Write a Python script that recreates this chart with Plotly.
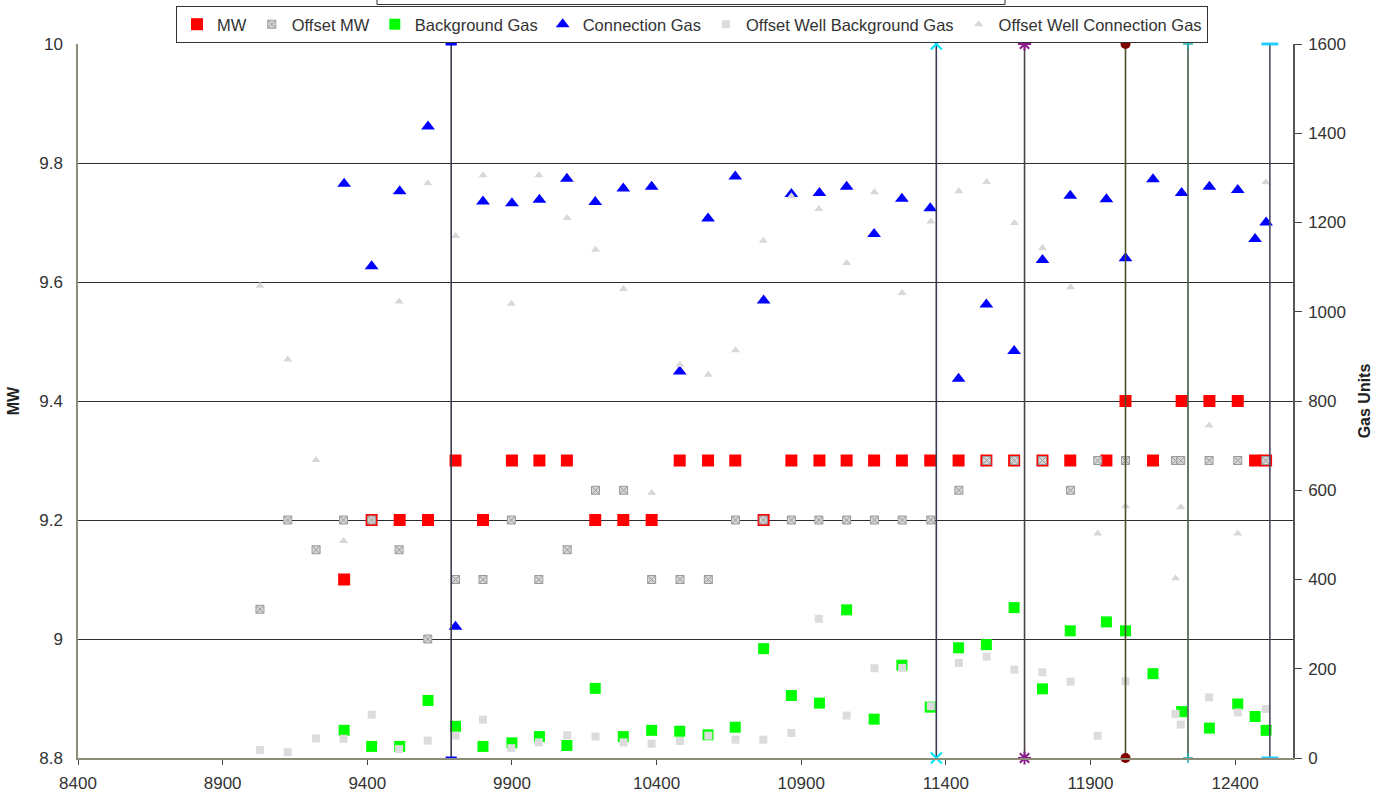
import plotly.graph_objects as go

# ---------------- data ----------------
depth = [9320, 9415, 9512, 9610, 9705, 9800, 9900, 9995, 10090, 10188, 10285, 10383,
         10480, 10578, 10672, 10770, 10866, 10963, 11057, 11152, 11248, 11346, 11444,
         11540, 11636, 11734, 11830, 11955, 12021, 12116, 12215, 12311, 12409, 12469, 12507]
mw = [9.1, 9.2, 9.2, 9.2, 9.3, 9.2, 9.3, 9.3, 9.3, 9.2, 9.2, 9.2,
      9.3, 9.3, 9.3, 9.2, 9.3, 9.3, 9.3, 9.3, 9.3, 9.3, 9.3,
      9.3, 9.3, 9.3, 9.3, 9.3, 9.4, 9.3, 9.4, 9.4, 9.4, 9.3, 9.3]
background_gas = [62, 26, 26, 129, 71, 26, 34, 48, 28, 156, 48, 62,
                  60, 52, 69, 245, 140, 123, 332, 87, 208, 114, 247,
                  254, 337, 155, 285, 305, 285, 189, 104, 67, 121, 93, 62]
connection_gas = [1287, 1102, 1270, 1415, 294, 1247, 1243, 1251, 1298, 1246, 1276, 1280,
                  866, 1209, 1303, 1025, 1264, 1266, 1280, 1174, 1253, 1232, 850,
                  1016, 912, 1116, 1260, 1252, 1120, 1297, 1266, 1280, 1273, 1163, 1200]

offset_depth = [9029, 9125, 9223, 9318, 9415, 9510, 9609, 9705, 9800, 9898, 9993, 10091,
                10189, 10286, 10383, 10481, 10579, 10673, 10769, 10866, 10961, 11057,
                11153, 11249, 11348, 11445, 11541, 11637, 11734, 11831, 11925, 12021,
                12194, 12212, 12310, 12409, 12506]
offset_mw = [9.05, 9.2, 9.15, 9.2, 9.2, 9.15, 9.0, 9.1, 9.1, 9.2, 9.1, 9.15,
             9.25, 9.25, 9.1, 9.1, 9.1, 9.2, 9.2, 9.2, 9.2, 9.2,
             9.2, 9.2, 9.2, 9.25, 9.3, 9.3, 9.3, 9.25, 9.3, 9.3,
             9.3, 9.3, 9.3, 9.3, 9.3]
offset_bg_gas = [18, 13, 44, 43, 97, 20, 39, 50, 86, 22, 35, 51,
                 48, 35, 32, 38, 50, 41, 41, 56, 312, 95,
                 201, 202, 116, 213, 227, 198, 192, 171, 50, 172,
                 99, 75, 136, 102, 110]
offset_conn_gas = [1058, 893, 668, 486, None, 1023, 1288, 1170, 1306, 1018, 1306, 1210,
                   1139, 1051, 594, 881, 859, 914, 1159, 1259, 1230, 1109,
                   1268, 1042, 1202, 1270, 1291, 1199, 1143, 1055, 503, 564,
                   403, 562, 745, 503, 1290]

# vertical event markers (depth), spanning the gas axis
event_depth = [9690, 11367, 11672, 12021, 12237, 12520]
gas_span = [0, 1600]

x_ticks = [8400, 8900, 9400, 9900, 10400, 10900, 11400, 11900, 12400]

# ---------------- styles ----------------
FONT = "Liberation Sans, Arial, sans-serif"
event_styles = [
    dict(line="#3c3c4c", symbol="line-ew", mcolor="#0000ff", size=8, lw=3),
    dict(line="#3c3c55", symbol="x-thin", mcolor="#00e5ff", size=11, lw=2),
    dict(line="#4a4048", symbol="asterisk", mcolor="#8b1a8b", size=11, lw=2),
    dict(line="#4d4d30", symbol="circle", mcolor="#800000", size=10, lw=0),
    dict(line="#405a48", symbol="cross-thin", mcolor="#20b0b0", size=7, lw=1.5),
    dict(line="#4a4a66", symbol="line-ew", mcolor="#22ccff", size=12, lw=3),
]

fig = go.Figure()

fig.add_trace(go.Scatter(
    x=depth, y=mw, name="MW", mode="markers",
    marker=dict(symbol="square", color="#ff0000", size=12)))
fig.add_trace(go.Scatter(
    x=offset_depth, y=offset_mw, name="Offset MW", mode="markers",
    marker=dict(symbol="square-x", color="#d6d6d6", size=8,
                line=dict(color="#9a9a9a", width=1))))
fig.add_trace(go.Scatter(
    x=depth, y=background_gas, name="Background Gas", mode="markers", yaxis="y2",
    marker=dict(symbol="square", color="#00ff00", size=11)))
fig.add_trace(go.Scatter(
    x=depth, y=connection_gas, name="Connection Gas", mode="markers", yaxis="y2",
    marker=dict(symbol="triangle-up", color="#0000ff", size=12)))
fig.add_trace(go.Scatter(
    x=offset_depth, y=offset_bg_gas, name="Offset Well Background Gas", mode="markers",
    yaxis="y2", marker=dict(symbol="square", color="#dcdcdc", size=8)))
fig.add_trace(go.Scatter(
    x=offset_depth, y=offset_conn_gas, name="Offset Well Connection Gas", mode="markers",
    yaxis="y2", marker=dict(symbol="triangle-up", color="#d8d8d8", size=8)))

# event lines (secondary axis, hidden from legend)
for d, st in zip(event_depth, event_styles):
    if st["symbol"] == "circle":
        marker = dict(symbol="circle", color=st["mcolor"], size=st["size"])
    else:
        marker = dict(symbol=st["symbol"], color=st["mcolor"], size=st["size"],
                      line=dict(color=st["mcolor"], width=st["lw"]))
    fig.add_trace(go.Scatter(
        x=[d, d], y=gas_span, yaxis="y2", mode="lines+markers",
        line=dict(color=st["line"], width=1.6), marker=marker,
        showlegend=False, hoverinfo="skip", cliponaxis=False))

W, H = 1377, 803
L, R, T, B = 78, 84, 44, 45
pw = W - L - R
ph = H - T - B


def px_x(p):
    return (p - L) / pw


def px_y(p):
    return 1 + (T - p) / ph


fig.update_layout(
    width=W, height=H,
    margin=dict(l=L, r=R, t=T, b=B, autoexpand=False),
    paper_bgcolor="white", plot_bgcolor="white",
    font=dict(family=FONT, color="#333333", size=17),
    showlegend=True,
    legend=dict(orientation="h", x=px_x(176), y=px_y(43), xanchor="left", yanchor="bottom",
                bordercolor="#333333", borderwidth=1, bgcolor="white",
                font=dict(size=16.5, color="#333333"), itemwidth=30,
                tracegroupgap=0, itemsizing="trace"),
    xaxis=dict(range=[8400, 12600], tickvals=x_ticks, tickformat="d",
               showgrid=False, zeroline=False,
               showline=True, linecolor="#8c8c78", linewidth=1.5,
               ticks="outside", ticklen=5, tickcolor="#444444",
               tickfont=dict(size=17), ticklabelstandoff=4),
    yaxis=dict(range=[8.8, 10], dtick=0.2, tick0=8.8, showgrid=True,
               gridcolor="#2e2e2e", gridwidth=1, zeroline=False,
               showline=True, linecolor="#8c8c78", linewidth=1.5,
               ticks="", tickfont=dict(size=17), ticklabelstandoff=10,
               title=dict(text="<b>MW</b>", font=dict(size=16, color="#222222"), standoff=16)),
    yaxis2=dict(range=[0, 1600], dtick=200, overlaying="y", side="right",
                showgrid=False, zeroline=False, showline=True, linecolor="#555555",
                linewidth=1.5, ticks="outside", ticklen=7, tickcolor="#444444",
                tickfont=dict(size=17), ticklabelstandoff=3,
                title=dict(text="<b>Gas Units</b>", font=dict(size=16, color="#222222"),
                           standoff=14)),
    shapes=[dict(type="rect", xref="paper", yref="paper",
                 x0=px_x(377), x1=px_x(1005), y0=px_y(4.5), y1=px_y(-20),
                 line=dict(color="#333333", width=1), fillcolor="white", layer="below")],
)

fig.write_html("out.html", config={"displayModeBar": False},
               post_script="document.body.style.margin='0';document.body.style.padding='0';")
